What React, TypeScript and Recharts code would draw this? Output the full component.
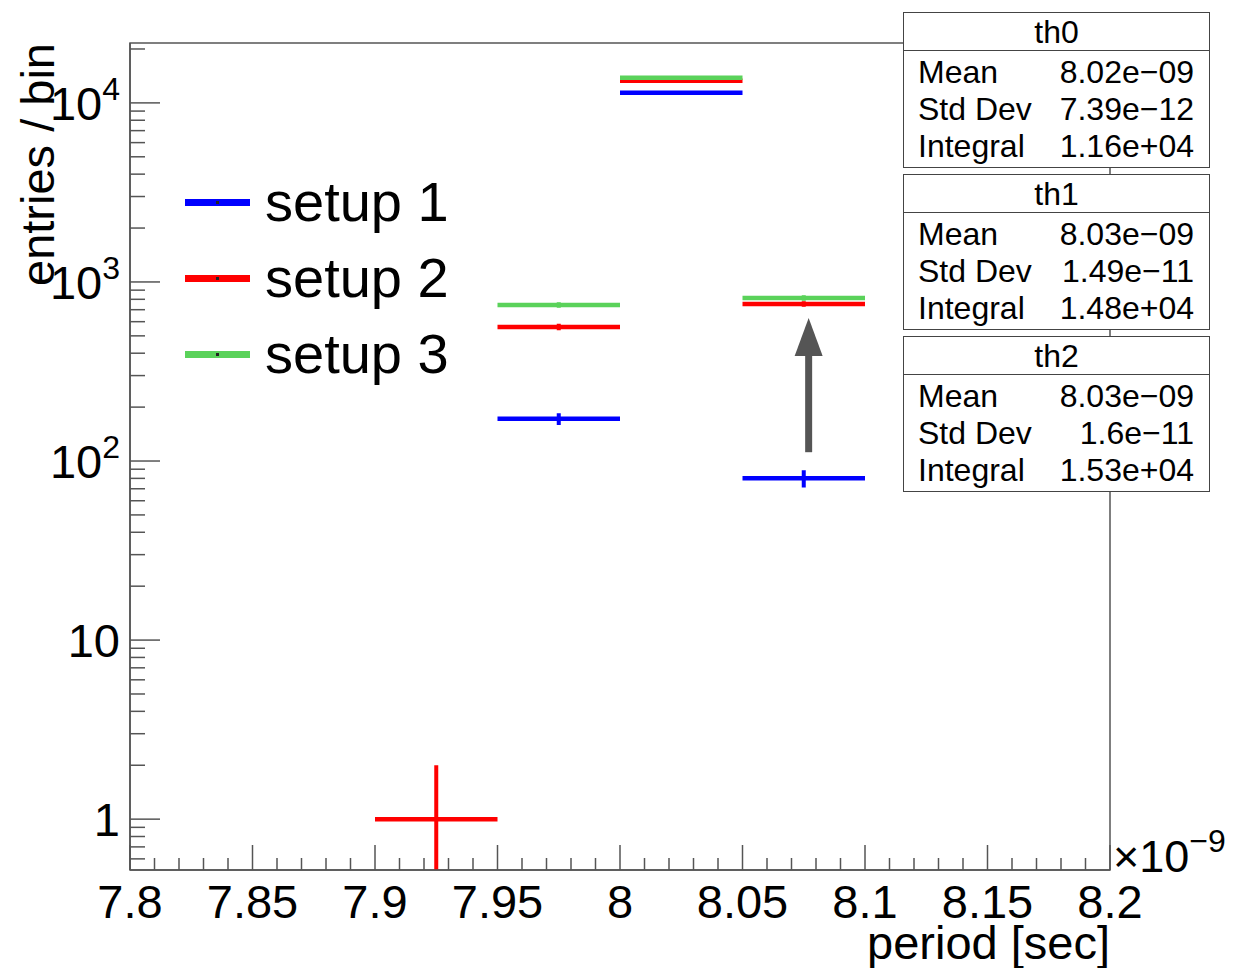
import React from 'react';
import { ComposedChart, Line, XAxis, YAxis, ReferenceArea, ReferenceLine } from 'recharts';

// histogram binning (units of 1e-9 s)
const BIN_EDGES = [7.9, 7.95, 8.0, 8.05, 8.1];
// entries per bin, null = empty bin
const SETUP1 = [null, 172, 11380, 80];
const SETUP2 = [1, 561, 13300, 754];
const SETUP3 = [null, 744, 13800, 814];

const SERIES = [
  { name: 'setup 1', color: '#0000ff', counts: SETUP1 },
  { name: 'setup 2', color: '#ff0000', counts: SETUP2 },
  { name: 'setup 3', color: '#5ad25a', counts: SETUP3 },
];

const X_MAJOR = [7.8, 7.85, 7.9, 7.95, 8.0, 8.05, 8.1, 8.15, 8.2];
const X_LABELS = ['7.8', '7.85', '7.9', '7.95', '8', '8.05', '8.1', '8.15', '8.2'];
const Y_MAJOR = [1, 10, 100, 1000, 10000];
const Y_EXP = ['', '', '2', '3', '4'];

const STATS = [
  { title: 'th0', mean: '8.02e\u221209', std: '7.39e\u221212', integral: '1.16e+04' },
  { title: 'th1', mean: '8.03e\u221209', std: '1.49e\u221211', integral: '1.48e+04' },
  { title: 'th2', mean: '8.03e\u221209', std: '1.6e\u221211', integral: '1.53e+04' },
];

// arrow annotation: setup 1 -> setup 3 in the 8.05-8.1 bin
const ARROW = { x: 8.077, from: 112, to: 630 };

const X_MIN = 7.8;
const X_MAX = 8.2;
const Y_MIN = 0.52;
const Y_MAX = 21600;

const FONT = '"Liberation Sans", Arial, Helvetica, sans-serif';
const AXIS = '#555';

const X_TICKS = Array.from({ length: 41 }, (_, i) => +(X_MIN + i * 0.01).toFixed(2));
const Y_TICKS: number[] = [];
[0.1, 1, 10, 100, 1000, 10000].forEach((d) => {
  for (let m = 1; m <= 9; m++) {
    const v = +(d * m).toPrecision(3);
    if (v >= Y_MIN && v <= Y_MAX) Y_TICKS.push(v);
  }
});

function stepData(counts: (number | null)[]) {
  const pts: { x: number; y: number | null }[] = [];
  counts.forEach((c, i) => {
    if (c == null) return;
    pts.push({ x: BIN_EDGES[i], y: c }, { x: BIN_EDGES[i + 1], y: c }, { x: BIN_EDGES[i + 1], y: null });
  });
  return pts;
}

function errorData(counts: (number | null)[]) {
  const pts: { x: number; y: number | null }[] = [];
  counts.forEach((c, i) => {
    if (c == null) return;
    const mid = (BIN_EDGES[i] + BIN_EDGES[i + 1]) / 2;
    const s = Math.sqrt(c);
    pts.push({ x: mid, y: Math.max(c - s, Y_MIN) }, { x: mid, y: c + s }, { x: mid, y: null });
  });
  return pts;
}

const XTick = (props: any) => {
  const { x, y, payload } = props;
  const idx = X_MAJOR.findIndex((m) => Math.abs(m - payload.value) < 1e-6);
  const len = idx >= 0 ? 25 : 12;
  return (
    <g>
      <line x1={x} x2={x} y1={y} y2={y - len} stroke={AXIS} strokeWidth={1.5} />
      {idx >= 0 && (
        <text x={x} y={y + 48} textAnchor="middle" fontSize={47} fontFamily={FONT} fill="#000">
          {X_LABELS[idx]}
        </text>
      )}
    </g>
  );
};

const YTick = (props: any) => {
  const { x, y, payload } = props;
  const idx = Y_MAJOR.findIndex((m) => Math.abs(m - payload.value) < 1e-6);
  const len = idx >= 0 ? 30 : 15;
  return (
    <g>
      <line x1={x} x2={x + len} y1={y} y2={y} stroke={AXIS} strokeWidth={1.5} />
      {idx >= 0 && (
        <text x={x - 10} y={y} dy={17} textAnchor="end" fontSize={47} fontFamily={FONT} fill="#000">
          {Y_EXP[idx] ? '10' : String(Y_MAJOR[idx])}
          {Y_EXP[idx] && (
            <tspan dy={-20} fontSize={32}>
              {Y_EXP[idx]}
            </tspan>
          )}
        </text>
      )}
    </g>
  );
};

const ArrowShape = (props: any) => {
  const { x1, y1, x2, y2 } = props;
  const head = 38;
  return (
    <g>
      <line x1={x1} y1={y1} x2={x2} y2={y2 + head - 2} stroke="#555" strokeWidth={7} />
      <polygon points={`${x2},${y2} ${x2 - 14},${y2 + head} ${x2 + 14},${y2 + head}`} fill="#555" />
    </g>
  );
};

const XTitle = (props: any) => {
  const { x, y, width } = props.viewBox;
  return (
    <g fontFamily={FONT} fill="#000">
      <text x={x + width} y={y + 89} textAnchor="end" fontSize={47}>
        period [sec]
      </text>
      <text x={x + width + 3} y={y + 2} fontSize={45}>
        {'\u00d710'}
        <tspan dy={-20} fontSize={32}>
          {'\u22129'}
        </tspan>
      </text>
    </g>
  );
};

const YTitle = (props: any) => {
  const { x, y, width } = props.viewBox;
  const tx = x + width - 76;
  return (
    <text
      x={tx}
      y={y}
      transform={`rotate(-90, ${tx}, ${y})`}
      textAnchor="end"
      fontSize={47}
      fontFamily={FONT}
      fill="#000"
    >
      entries / bin
    </text>
  );
};

function StatBox({ s, top }: { s: (typeof STATS)[number]; top: number }) {
  const rows = [
    ['Mean', s.mean],
    ['Std Dev', s.std],
    ['Integral', s.integral],
  ];
  return (
    <div
      style={{
        position: 'absolute',
        left: 895,
        top,
        width: 305,
        height: 154,
        border: '1.5px solid #444',
        background: '#fff',
        fontFamily: FONT,
        fontSize: 32,
        color: '#000',
      }}
    >
      <div style={{ height: 37, lineHeight: '38px', textAlign: 'center', borderBottom: '1.5px solid #444' }}>
        {s.title}
      </div>
      {rows.map(([k, v], i) => (
        <div
          key={k}
          style={{ position: 'absolute', left: 14, right: 15, top: 41 + i * 37, height: 37, lineHeight: '37px' }}
        >
          <span>{k}</span>
          <span style={{ position: 'absolute', right: 0 }}>{v}</span>
        </div>
      ))}
    </div>
  );
}

export default function App() {
  return (
    <div style={{ position: 'relative', width: 1225, height: 960 }}>
      <ComposedChart width={1225} height={960} margin={{ top: 35, right: 123, bottom: 8, left: 12 }}>
        <XAxis
          dataKey="x"
          type="number"
          domain={[X_MIN, X_MAX]}
          allowDataOverflow
          ticks={X_TICKS}
          interval={0}
          tick={<XTick />}
          tickLine={false}
          tickSize={0}
          tickMargin={0}
          height={90}
          axisLine={{ stroke: AXIS, strokeWidth: 1.5 }}
          label={<XTitle />}
        />
        <YAxis
          type="number"
          scale="log"
          domain={[Y_MIN, Y_MAX]}
          allowDataOverflow
          ticks={Y_TICKS}
          interval={0}
          tick={<YTick />}
          tickLine={false}
          tickSize={0}
          tickMargin={0}
          width={110}
          axisLine={{ stroke: AXIS, strokeWidth: 1.5 }}
          label={<YTitle />}
        />
        <ReferenceArea x1={X_MIN} x2={X_MAX} y1={Y_MIN} y2={Y_MAX} fill="none" stroke={AXIS} strokeWidth={1.5} />
        {SERIES.map((s) => (
          <Line
            key={s.name}
            data={stepData(s.counts)}
            dataKey="y"
            type="linear"
            stroke={s.color}
            strokeWidth={4.5}
            dot={false}
            activeDot={false}
            connectNulls={false}
            isAnimationActive={false}
          />
        ))}
        {SERIES.map((s) => (
          <Line
            key={s.name + '-err'}
            data={errorData(s.counts)}
            dataKey="y"
            type="linear"
            stroke={s.color}
            strokeWidth={4}
            dot={false}
            activeDot={false}
            connectNulls={false}
            isAnimationActive={false}
          />
        ))}
        <ReferenceLine
          segment={[
            { x: ARROW.x, y: ARROW.from },
            { x: ARROW.x, y: ARROW.to },
          ]}
          shape={<ArrowShape />}
        />
      </ComposedChart>

      {/* legend */}
      <div style={{ position: 'absolute', left: 177, top: 167, fontFamily: FONT, fontSize: 56, color: '#000' }}>
        {SERIES.map((s) => (
          <div key={s.name} style={{ position: 'relative', height: 76, lineHeight: '54px' }}>
            <div style={{ position: 'absolute', left: 0, top: 24, width: 65, height: 7, background: s.color }} />
            <div style={{ position: 'absolute', left: 31, top: 26, width: 3, height: 3, background: '#222' }} />
            <div style={{ position: 'absolute', left: 80, top: 0, whiteSpace: 'nowrap' }}>{s.name}</div>
          </div>
        ))}
      </div>

      {/* stat boxes */}
      {STATS.map((s, i) => (
        <StatBox key={s.title} s={s} top={4 + i * 162} />
      ))}
    </div>
  );
}
